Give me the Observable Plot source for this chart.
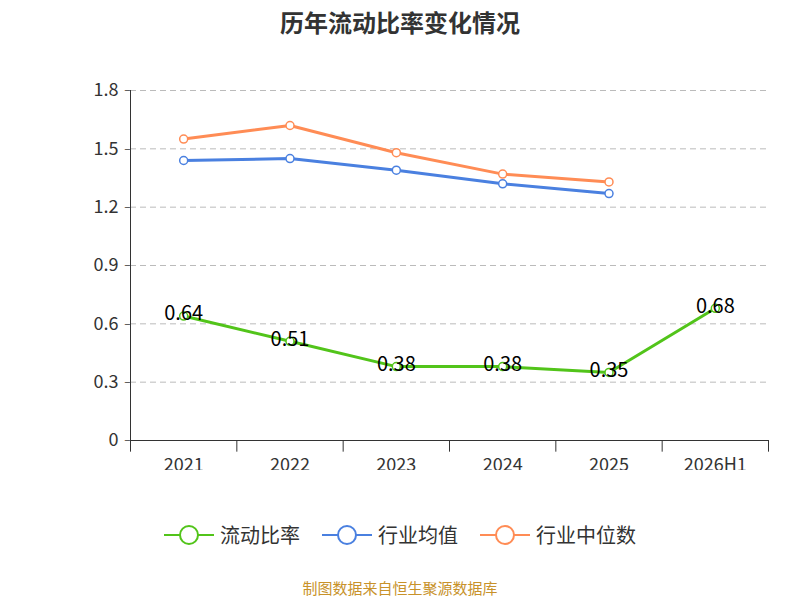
<!DOCTYPE html><html><head><meta charset="utf-8">
<script src="https://cdn.jsdelivr.net/npm/d3@7"></script>
<script src="https://cdn.jsdelivr.net/npm/@observablehq/plot@0.6"></script>
<style>body{margin:0;width:800px;height:600px;font-family:"Noto Sans CJK SC","Noto Sans",sans-serif;position:relative;background:#fff}
#t{position:absolute;top:4px;width:800px;text-align:center;font-size:24px;font-weight:bold;color:#333}
#c{position:absolute;top:60px;left:0}
#lg{position:absolute;top:520px;width:800px;display:flex;justify-content:center;gap:22px;font-size:20px;color:#333}
#lg span{display:flex;align-items:center;gap:6px}
#cap{position:absolute;top:577px;width:800px;text-align:center;font-size:15px;color:#c8922a}
</style></head><body>
<div id="t">历年流动比率变化情况</div><div id="c"></div>
<div id="lg"></div><div id="cap">制图数据来自恒生聚源数据库</div>
<script>
const years=["2021","2022","2023","2024","2025","2026H1"];
const ratio=[0.64,0.51,0.38,0.38,0.35,0.68];
const avg=[1.44,1.45,1.39,1.32,1.27];
const med=[1.55,1.62,1.48,1.37,1.33];
const yTicks=[0,0.3,0.6,0.9,1.2,1.5,1.8];
const names=["流动比率","行业均值","行业中位数"];
const colors=["#52c41a","#4a80e0","#ff8c55"];
const mk=(arr,s)=>arr.map((v,i)=>({i,v,s}));
const d0=mk(ratio,names[0]),d1=mk(avg,names[1]),d2=mk(med,names[2]);
const yt=yTicks.map(v=>({x:-0.5,v}));
const bounds=d3.range(years.length+1).map(i=>({b:i-0.5,y1:0,y2:-0.06}));
const yl=years.map((n,i)=>({i,n,y:0}));
const chart=Plot.plot({width:800,height:410,marginTop:30,marginBottom:30,marginLeft:130,marginRight:32,
style:{fontSize:"18px",color:"#333",fontFamily:"Noto Sans CJK SC,Noto Sans,sans-serif"},
x:{type:"linear",domain:[-0.5,years.length-0.5],axis:null},
y:{type:"linear",domain:[0,1.8],axis:null},
marks:[
Plot.ruleY(yt.slice(1),{y:"v",stroke:"#bbb",strokeDasharray:"6,4"}),
Plot.ruleX([{x:-0.5}],{x:"x",stroke:"#333"}),
Plot.ruleY([{y:0}],{y:"y",stroke:"#333"}),
Plot.text(yt,{x:"x",y:"v",text:d=>String(d.v),dx:-12,textAnchor:"end",fill:"#333"}),
Plot.text(yt,{x:"x",y:"v",text:()=>"–",dx:-3,textAnchor:"middle",fill:"#333",fontSize:12}),
Plot.ruleX(bounds,{x:"b",y1:"y1",y2:"y2",stroke:"#333"}),
Plot.text(yl,{x:"i",y:"y",text:"n",dy:25,fill:"#333"}),
...[d2,d1,d0].map((d,k)=>Plot.line(d,{x:"i",y:"v",stroke:colors[2-k],strokeWidth:3})),
...[d2,d1,d0].map((d,k)=>Plot.dot(d,{x:"i",y:"v",r:4,fill:"#fff",stroke:colors[2-k],strokeWidth:1.5})),
Plot.text(d0,{x:"i",y:"v",text:d=>d.v.toFixed(2),fontSize:20,fill:"#000",dy:-2})
]});
document.getElementById("c").append(chart);
const lg=document.getElementById("lg");
names.forEach((n,k)=>{lg.insertAdjacentHTML("beforeend",`<span><svg width="50" height="24"><line x1="0" x2="50" y1="12" y2="12" stroke="${colors[k]}" stroke-width="2"/><circle cx="25" cy="12" r="9" fill="#fff" stroke="${colors[k]}" stroke-width="2"/></svg>${n}</span>`)});
</script></body></html>
